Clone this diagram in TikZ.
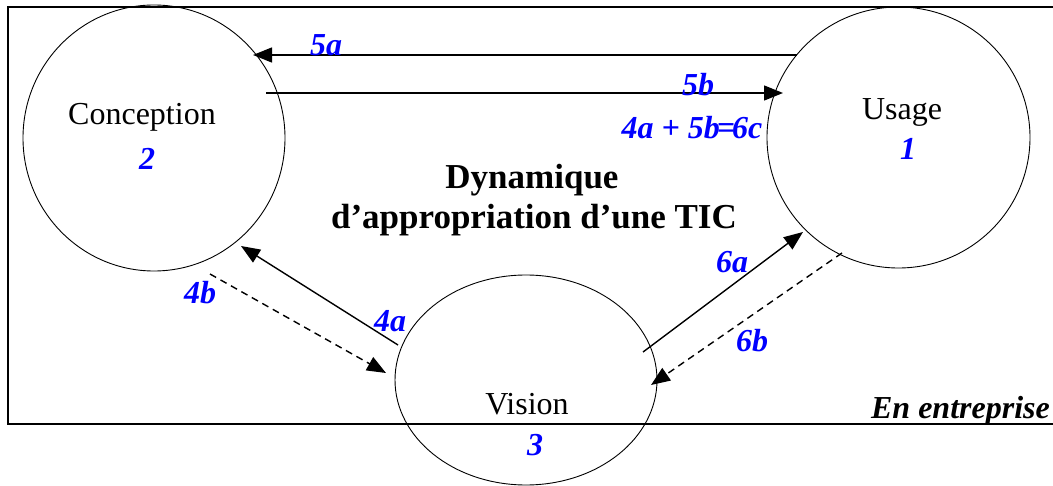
\documentclass[tikz,border=0pt]{standalone}
\usepackage{fontspec}
\setmainfont{Liberation Serif}
\usetikzlibrary{arrows.meta,shapes.geometric}
\definecolor{lblblue}{RGB}{0,0,255}
\tikzset{
  bubble/.style={draw, ellipse, line width=0.9pt, inner sep=0pt, outer sep=0pt},
  plain/.style={font=\fontsize{32}{36}\selectfont, inner sep=0pt, anchor=base},
  lbl/.style={font=\fontsize{32}{36}\selectfont\bfseries\itshape, text=lblblue, inner sep=0pt, anchor=base},
  title/.style={font=\fontsize{35}{40}\selectfont\bfseries, inner sep=0pt, anchor=base},
  arr/.style={line width=1.4pt, -{Triangle[length=19pt,width=15pt]}},
  darr/.style={arr, dash pattern=on 7pt off 5pt},
  frame/.style={line width=1.6pt}
}
\begin{document}
\begin{tikzpicture}[x=1pt,y=-1pt]
\useasboundingbox (0,0) rectangle (1053,486);
\fill[white] (0,0) rectangle (1053,486);
% frame
\draw[frame] (1053,7) -- (8,7) -- (8,424) -- (1053,424);
% circles
\node[bubble, minimum width=262pt, minimum height=266pt] (conc) at (154,138) {};
\node[bubble, minimum width=263pt, minimum height=261pt] (usage) at (898.5,137.5) {};
\node[bubble, minimum width=262pt, minimum height=210pt] (vision) at (526,380) {};
% texts in circles
\node[plain] (tconc) at (142,125) {Conception};
\node[lbl] (n2) at (147,170) {2};
\node[plain] (tusage) at (902,120) {Usage};
\node[lbl] (n1) at (908,160) {1};
\node[plain] (tvision) at (527,414) {Vision};
\node[lbl] (n3) at (535,455) {3};
% title
\node[title] (t1) at (532,189) {Dynamique};
\node[title] (t2) at (534,229) {d’appropriation d’une TIC};
% frame label
\node[font=\fontsize{32}{36}\selectfont\bfseries\itshape, inner sep=0pt, anchor=base east] (ent) at (1050,418) {En entreprise};
% arrow end points
\coordinate (a5s) at (797,55);
\coordinate (a5e) at (253,55);
\coordinate (b5s) at (266,93);
\coordinate (b5e) at (783,93);
\coordinate (a4s) at (398,345);
\coordinate (a4e) at (241,246);
\coordinate (b4s) at (210,274);
\coordinate (b4e) at (386,373);
\coordinate (a6s) at (643,352);
\coordinate (a6e) at (803,232);
\coordinate (b6s) at (842,253);
\coordinate (b6e) at (651,385);
% arrows
\draw[arr] (a5s) -- (a5e);
\draw[arr] (b5s) -- (b5e);
\draw[arr] (a4s) -- (a4e);
\draw[darr] (b4s) -- (b4e);
\draw[arr] (a6s) -- (a6e);
\draw[darr] (b6s) -- (b6e);
% arrow labels
\node[lbl] (l5a) at (326,56) {5a};
\node[lbl] (l5b) at (698,96) {5b};
\node[lbl] (l6c) at (692,139) {4a + 5b\kern-3pt=\kern-3pt6c};
\node[lbl] (l4b) at (200,304) {4b};
\node[lbl] (l4a) at (390,332) {4a};
\node[lbl] (l6a) at (732,273) {6a};
\node[lbl] (l6b) at (752,352) {6b};
\end{tikzpicture}
\end{document}
